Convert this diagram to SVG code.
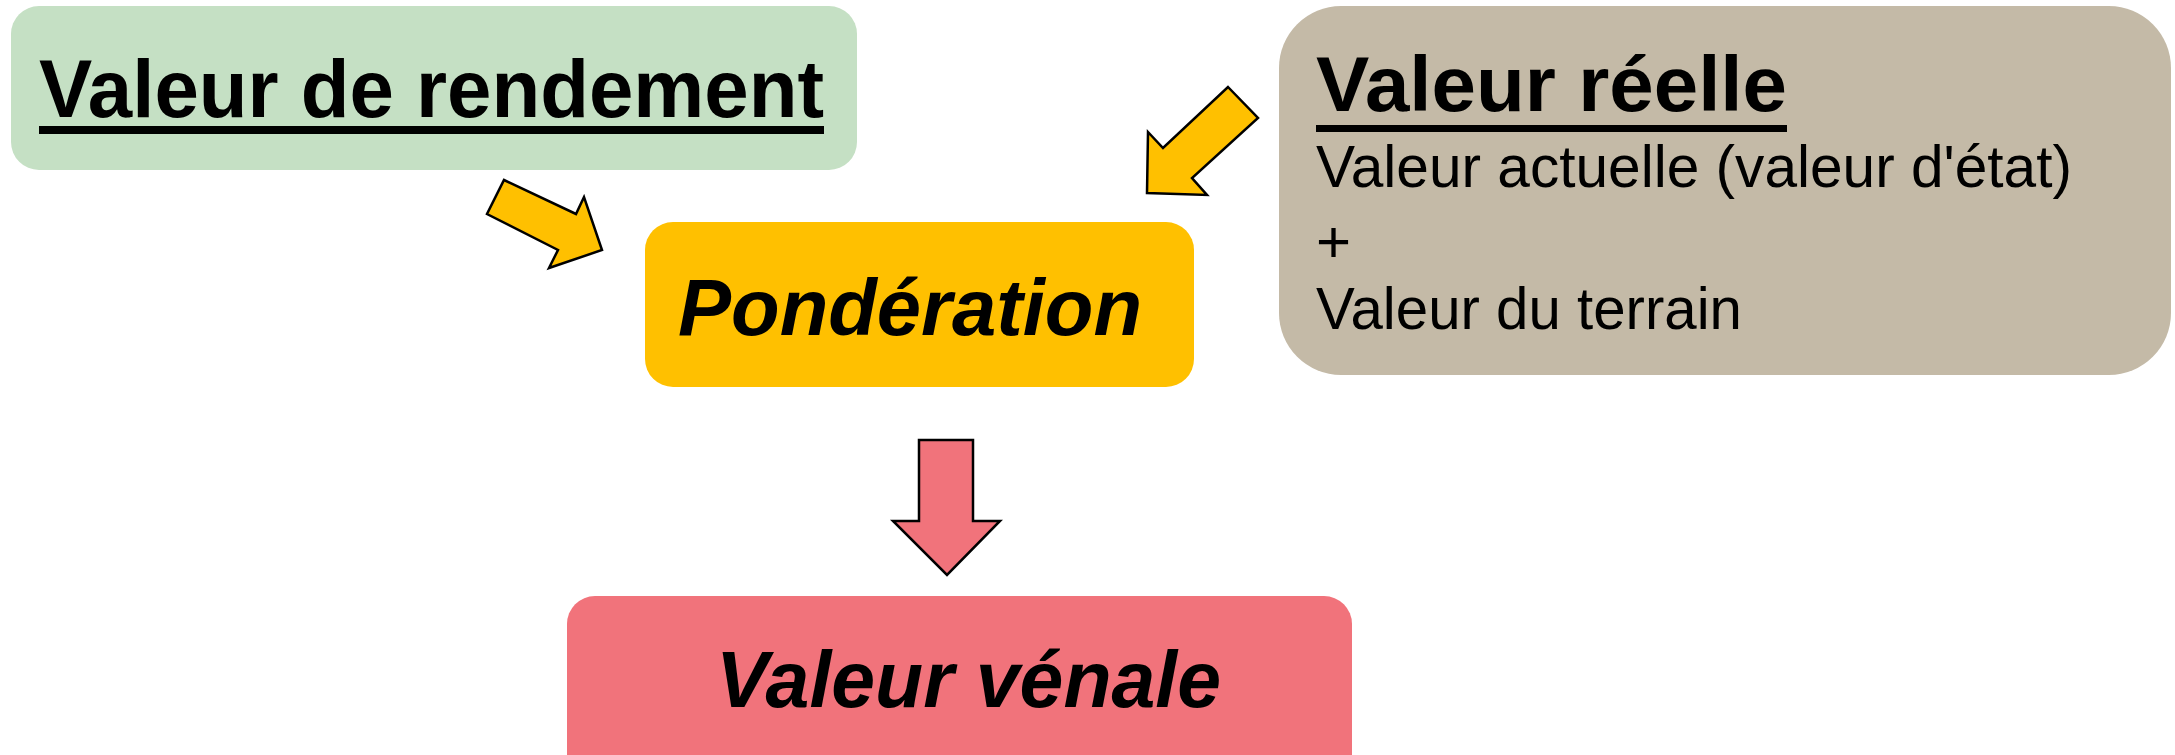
<svg xmlns="http://www.w3.org/2000/svg" width="2175" height="755" viewBox="0 0 2175 755">
<style>
.t{font-family:"Liberation Sans",Arial,sans-serif;fill:#000}
.b{font-weight:bold}
.i{font-style:italic}
.arr{stroke:#000;stroke-width:2.5;stroke-linejoin:miter}
</style>
<rect width="2175" height="755" fill="#fff"/>
<g id="node-rendement">
<rect x="11" y="6" width="846" height="164" rx="28" fill="#C5E0C4"/>
<text class="t b" x="39" y="117" font-size="81" textLength="785" lengthAdjust="spacingAndGlyphs">Valeur de rendement</text>
<rect x="39" y="126" width="785" height="8" fill="#000"/>
</g>
<g id="node-reelle">
<rect x="1279" y="6" width="892" height="369" rx="62" fill="#C4BAA7"/>
<text class="t b" x="1316" y="111" font-size="78" textLength="471" lengthAdjust="spacingAndGlyphs">Valeur réelle</text>
<rect x="1316" y="125" width="471" height="7" fill="#000"/>
<text class="t" x="1316" y="187" font-size="60" textLength="756" lengthAdjust="spacingAndGlyphs">Valeur actuelle (valeur d'état)</text>
<text class="t" x="1316" y="262" font-size="60">+</text>
<text class="t" x="1316" y="329" font-size="60" textLength="426" lengthAdjust="spacingAndGlyphs">Valeur du terrain</text>
</g>
<g id="node-ponderation">
<rect x="645" y="222" width="549" height="165" rx="28" fill="#FFC000"/>
<text class="t b i" x="678" y="335" font-size="80" textLength="464" lengthAdjust="spacingAndGlyphs">Pondération</text>
</g>
<g id="node-venale">
<rect x="567" y="596" width="785" height="190" rx="28" fill="#F1737B"/>
<text class="t b i" x="716" y="707" font-size="80" textLength="505" lengthAdjust="spacingAndGlyphs">Valeur vénale</text>
</g>
<g id="connectors">
<polygon class="arr" fill="#FFC000" points="504,180 576,214 584,197 602,250 549,268 558,250 487,214"/>
<polygon class="arr" fill="#FFC000" points="1228,87 1258,118 1192,178 1207,195 1147,193 1148,132 1163,148"/>
<polygon class="arr" fill="#F1737B" points="919,440 973,440 973,521 1000,521 947,575 893,521 919,521"/>
</g>
</svg>
